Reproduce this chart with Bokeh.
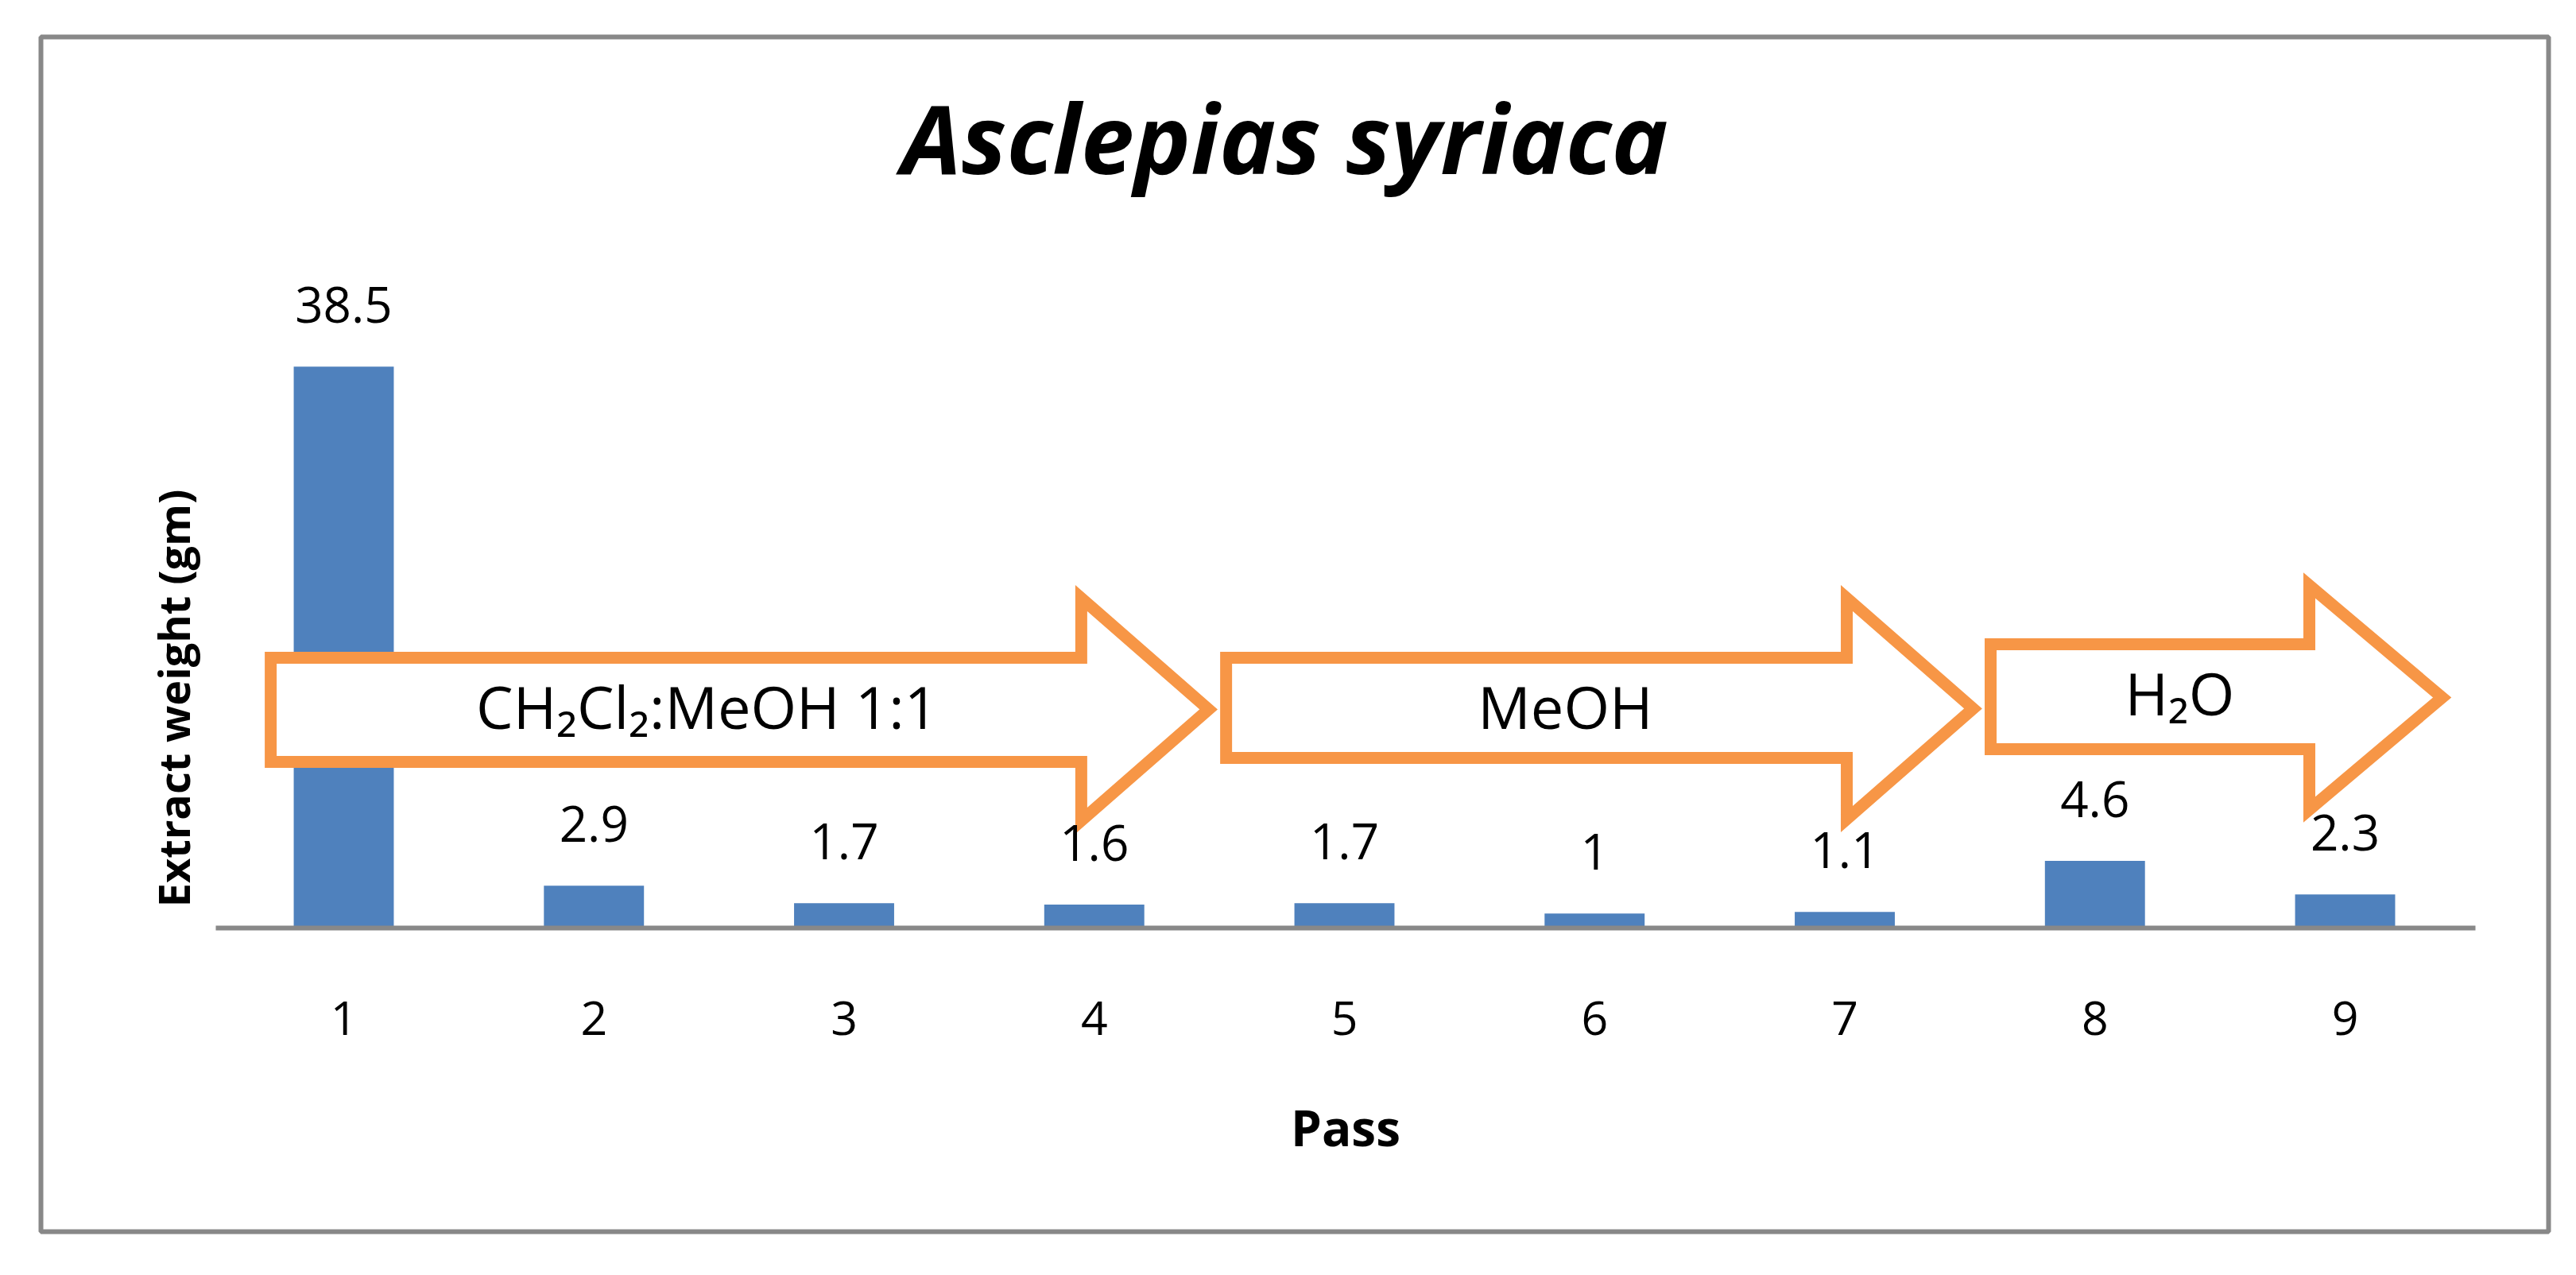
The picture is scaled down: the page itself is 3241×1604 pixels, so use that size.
import math
from bokeh.plotting import figure
from bokeh.models import ColumnDataSource, LabelSet, FixedTicker, Range1d
from bokeh.core.properties import value
from bokeh.embed import file_html
from bokeh.resources import INLINE

# ---- data ----
passes = [1, 2, 3, 4, 5, 6, 7, 8, 9]
extract_weight = [38.5, 2.9, 1.7, 1.6, 1.7, 1.0, 1.1, 4.6, 2.3]
value_labels = ["38.5", "2.9", "1.7", "1.6", "1.7", "1", "1.1", "4.6", "2.3"]
solvent_names = ["CH\u2082Cl\u2082:MeOH 1:1", "MeOH", "H\u2082O"]
title_text = "Asclepias syriaca"
x_label = "Pass"
y_label = "Extract weight (gm)"

# ---- layout constants (annotation geometry, data units) ----
arrow_left = [0.708, 4.527, 7.583]
arrow_headbase = [3.948, 7.008, 8.857]
arrow_tip = [4.457, 7.513, 9.388]
arrow_body_top = [18.54, 18.54, 19.47]
arrow_body_bottom = [11.40, 11.67, 12.27]
arrow_head_top = [22.63, 22.63, 23.50]
arrow_head_bottom = [7.36, 7.47, 8.12]
arrow_text_x = [2.452, 5.883, 8.339]
arrow_text_y = [13.63, 13.63, 14.56]

FONT = "Open Sans"
BAR = "#4F81BD"
ORANGE = "#F79646"
GRAY = "#888888"

p = figure(width=3233, height=1596, output_backend="svg", toolbar_location=None,
           x_range=Range1d(-0.2105, 9.8133), y_range=Range1d(-20.83, 61.12),
           y_axis_location=None, min_border_left=51, min_border_right=27,
           min_border_top=46, min_border_bottom=47)
p.title.visible = False
p.outline_line_color = GRAY
p.outline_line_width = 6
p.background_fill_color = "white"
p.border_fill_color = "white"
p.xgrid.visible = False
p.ygrid.visible = False

src = ColumnDataSource(dict(x=passes, y=extract_weight, lab=value_labels))
p.vbar(x="x", top="y", bottom=0, width=0.4, source=src, fill_color=BAR, line_color=None)

p.add_layout(LabelSet(x="x", y="y", text="lab", source=src, y_offset=55,
                      text_align="center", text_baseline="alphabetic",
                      text_font=value(FONT), text_font_size="62px", text_color="black"))

# arrows
xs, ys = [], []
for i in range(len(solvent_names)):
    c = (arrow_head_top[i] + arrow_head_bottom[i]) / 2
    xs.append([arrow_left[i], arrow_headbase[i], arrow_headbase[i], arrow_tip[i],
               arrow_headbase[i], arrow_headbase[i], arrow_left[i]])
    ys.append([arrow_body_top[i], arrow_body_top[i], arrow_head_top[i], c,
               arrow_head_bottom[i], arrow_body_bottom[i], arrow_body_bottom[i]])
p.patches(xs, ys, fill_color="white", line_color=ORANGE, line_width=15, line_join="miter")

arrow_src = ColumnDataSource(dict(x=arrow_text_x, y=arrow_text_y, t=solvent_names))
p.add_layout(LabelSet(x="x", y="y", text="t", source=arrow_src,
                      text_align="center", text_baseline="alphabetic",
                      text_font=value(FONT), text_font_size="74px", text_color="black"))

# x axis inside the frame at y = 0
ax = p.xaxis[0]
ax.fixed_location = 0
ax.bounds = (0.49, 9.52)
ax.ticker = FixedTicker(ticks=passes)
ax.axis_line_color = GRAY
ax.axis_line_width = 6
ax.major_tick_line_color = None
ax.minor_tick_line_color = None
ax.major_tick_out = 0
ax.major_tick_in = 0
ax.major_label_standoff = 93
ax.major_label_text_font = FONT
ax.major_label_text_font_size = "59px"
ax.major_label_text_color = "black"
ax.axis_label = x_label
ax.axis_label_standoff = 70
ax.axis_label_text_font = FONT
ax.axis_label_text_font_style = "bold"
ax.axis_label_text_font_size = "62px"
ax.axis_label_text_color = "black"

# title and y label
title_src = ColumnDataSource(dict(x=[4.762], y=[51.74], t=[title_text]))
p.add_layout(LabelSet(x="x", y="y", text="t", source=title_src, text_align="center",
                      text_baseline="alphabetic", text_font=value(FONT),
                      text_font_style="bold italic", text_font_size="120px",
                      text_color="black"))
ylab_src = ColumnDataSource(dict(x=[0.317], y=[15.76], t=[y_label]))
p.add_layout(LabelSet(x="x", y="y", text="t", source=ylab_src, angle=math.pi / 2,
                      text_align="center", text_baseline="middle", text_font=value(FONT),
                      text_font_style="bold", text_font_size="54px",
                      text_color="black"))

open("out.html", "w").write(file_html(p, INLINE))
